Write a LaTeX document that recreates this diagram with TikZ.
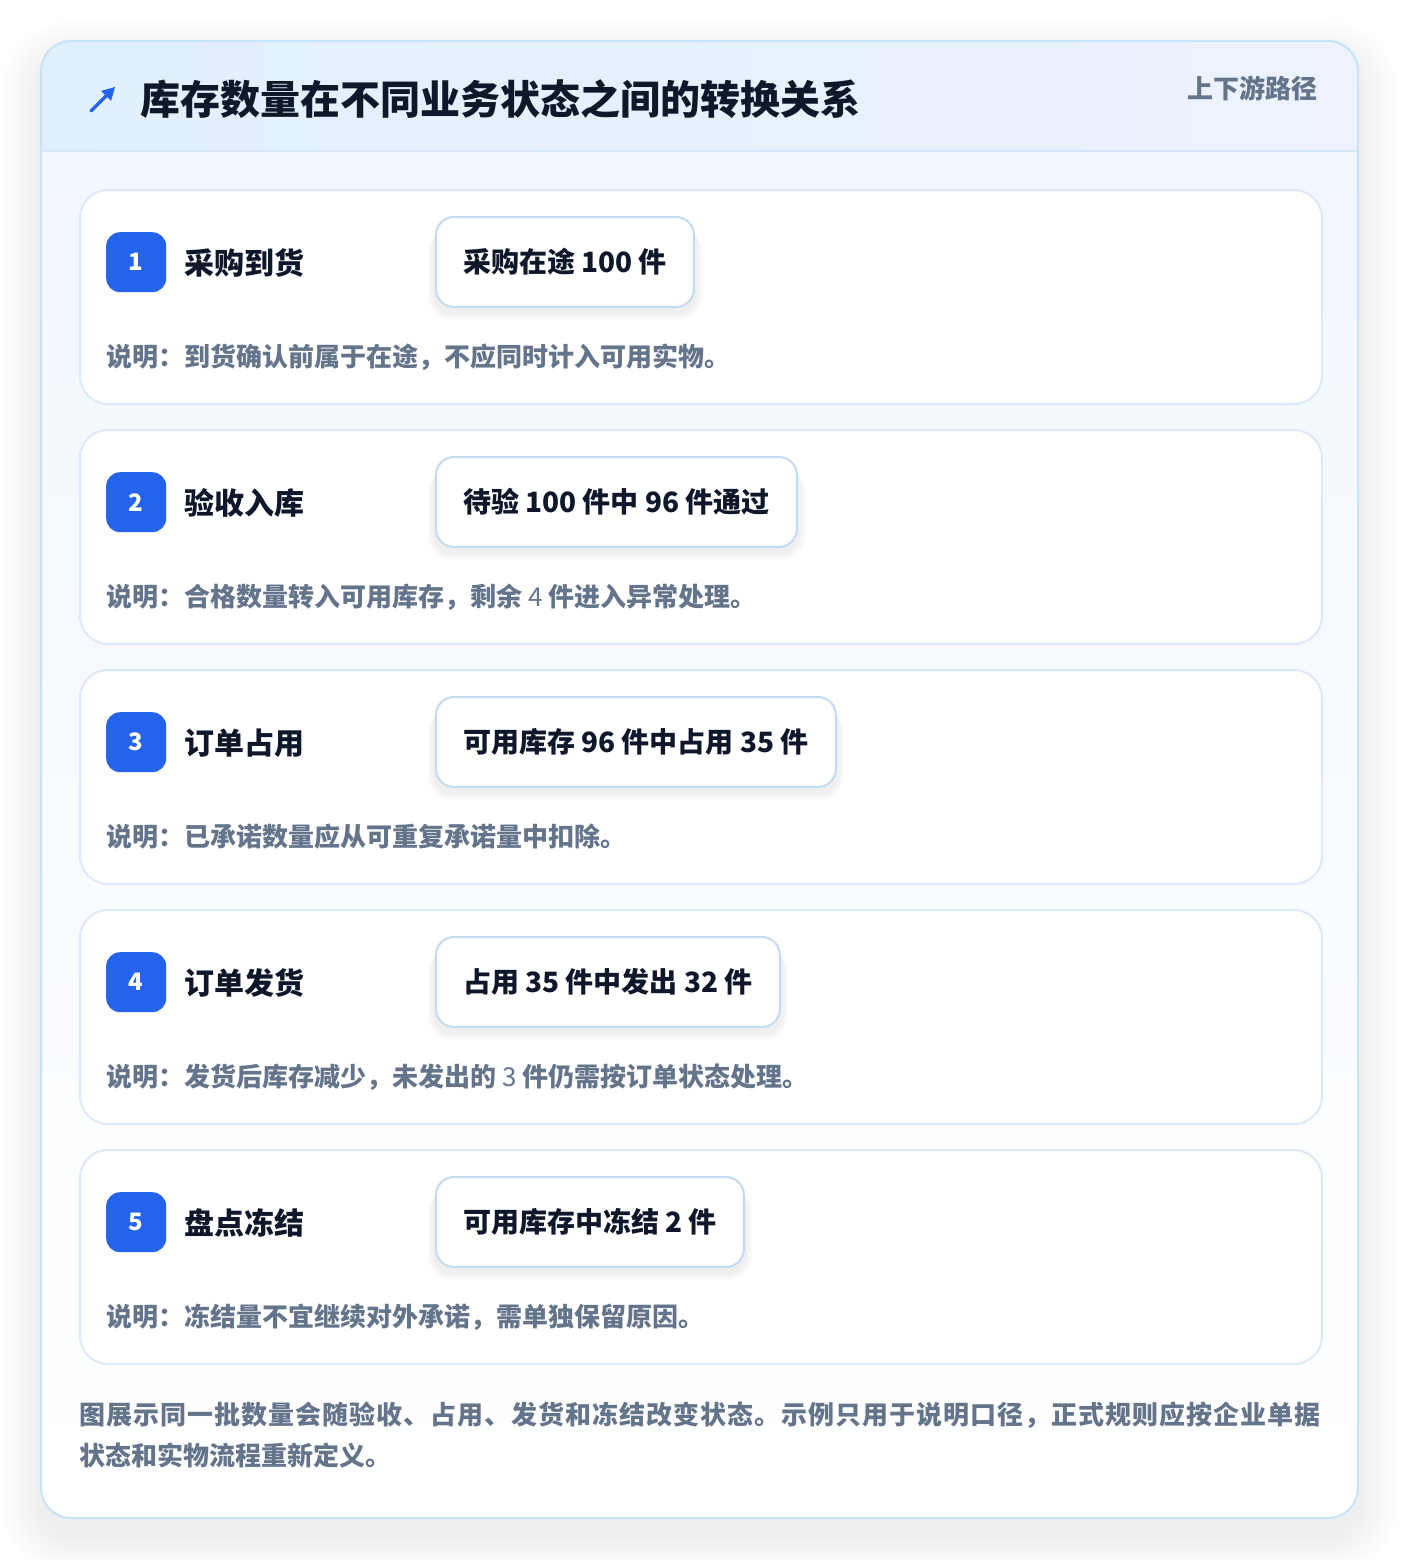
\documentclass[tikz,border=0pt]{standalone}
\usepackage{fontspec}
\setmainfont{Noto Sans CJK SC}
\definecolor{badgeblue}{HTML}{2563EB}
\definecolor{ink}{HTML}{0F172A}
\definecolor{muted}{HTML}{64748B}
\definecolor{outerborder}{HTML}{C5E4F8}
\definecolor{hdrL}{HTML}{E1EFFD}
\definecolor{hdrR}{HTML}{EDF2FE}
\definecolor{hdrline}{HTML}{D6E7F9}
\definecolor{cardborder}{HTML}{DCE9F8}
\definecolor{valborder}{HTML}{C3D9F4}
\definecolor{bodytop}{HTML}{F0F7FE}
\pgfdeclarelayer{back}
\pgfdeclarelayer{cards}
\pgfdeclarelayer{shadow}
\pgfsetlayers{back,cards,shadow,main}
\makeatletter
\newcommand\spreadline[2]{\hbox to #1{\@tfor\tmpc:=#2\do{\tmpc\hfil}\unskip}}
\makeatother
\tikzset{
  maintitle/.style={inner sep=0pt, text height=35.2pt, text depth=4.8pt,
    font=\fontsize{40}{48}\selectfont\bfseries, text=ink},
  sidetitle/.style={inner sep=0pt, text height=22.9pt, text depth=3.1pt,
    font=\fontsize{26}{32}\selectfont\bfseries, text=muted},
  stepcard/.style={draw=cardborder, line width=2pt, fill=white, rounded corners=28pt,
    minimum width=1242pt, minimum height=214pt, inner sep=0pt},
  badge/.style={fill=badgeblue, rounded corners=14pt, minimum width=60pt, minimum height=60pt,
    inner sep=0pt, text=white, font=\fontsize{24}{28}\selectfont\bfseries},
  steptitle/.style={inner sep=0pt, text height=26.4pt, text depth=3.6pt,
    font=\fontsize{30}{36}\selectfont\bfseries, text=ink},
  valbox/.style={draw=valborder, line width=2pt, fill=white, rounded corners=18pt,
    minimum height=90pt, inner xsep=27pt, inner ysep=0pt, text height=24.6pt, text depth=3.4pt,
    font=\fontsize{28}{34}\selectfont\bfseries, text=ink},
  note/.style={inner sep=0pt, text height=22.9pt, text depth=3.1pt,
    font=\fontsize{26}{32}\selectfont\bfseries, text=muted},
  foot/.style={inner sep=0pt, text height=22.9pt, text depth=3.1pt,
    font=\fontsize{26}{32}\selectfont\bfseries, text=muted},
}
\newcommand\mkstep[5]{% #1 index, #2 top y, #3 title, #4 value, #5 note
  \begin{pgfonlayer}{cards}
    \node[stepcard, anchor=north west] (card#1) at (79,#2) {};
  \end{pgfonlayer}
  \node[badge, anchor=north west] (badge#1) at (106,#2+43) {#1};
  \node[steptitle, anchor=west] (title#1) at (184,#2+74) {#3};
  \node[valbox, anchor=west] (val#1) at (435,#2+73) {#4};
  \begin{pgfonlayer}{shadow}
    \foreach \k in {1,...,8}{
      \pgfmathsetmacro\rr{18+\k}
      \fill[black, opacity=0.006, rounded corners=\rr pt]
        ([xshift=-\k pt, yshift=-\k pt-5pt]val#1.north west) rectangle ([xshift=\k pt, yshift=-\k pt-5pt]val#1.south east);
    }
  \end{pgfonlayer}
  \node[note, anchor=west] (note#1) at (106,#2+168) {#5};
}
\begin{document}
\begin{tikzpicture}[x=1pt,y=-1pt]
\useasboundingbox (0,0) rectangle (1400,1560);
\begin{pgfonlayer}{back}
  \fill[white] (0,0) rectangle (1400,1560);
  % soft outer shadow
  \foreach \k in {1,...,16}{
    \pgfmathsetmacro\rr{30+2.5*\k}
    \fill[black, opacity=0.0045, rounded corners=\rr pt]
      (41-2.5*\k, 41-2.5*\k+18) rectangle (1358+2.5*\k, 1518+2.5*\k+18);
  }
  % card body
  \shade[top color=bodytop, bottom color=white, rounded corners=30pt] (41,41) rectangle (1358,1518);
  \begin{scope}
    \clip[rounded corners=30pt] (41,41) rectangle (1358,1518);
    \shade[left color=hdrL, right color=hdrR] (41,41) rectangle (1358,151);
  \end{scope}
  \draw[hdrline, line width=1.5pt] (41,151) -- (1358,151);
  \draw[outerborder, line width=2pt, rounded corners=30pt] (41,41) rectangle (1358,1518);
\end{pgfonlayer}

% header
\coordinate (arrowtail) at (91,111);
\coordinate (arrowhead) at (115,87);
\draw[badgeblue, line width=3.2pt, line cap=round] (arrowtail) -- (111,91);
\fill[badgeblue] (arrowhead) -- (101,91) -- (111,101) -- cycle;
\node[maintitle, anchor=west] (title) at (140,99) {库存数量在不同业务状态之间的转换关系};
\node[sidetitle, anchor=east] (side) at (1318,89) {上下游路径};

% steps
\mkstep{1}{189}{采购到货}{采购在途 100 件}{说明：到货确认前属于在途，不应同时计入可用实物。}
\mkstep{2}{429}{验收入库}{待验 100 件中 96 件通过}{说明：合格数量转入可用库存，剩余 {\mdseries 4} 件进入异常处理。}
\mkstep{3}{669}{订单占用}{可用库存 96 件中占用 35 件}{说明：已承诺数量应从可重复承诺量中扣除。}
\mkstep{4}{909}{订单发货}{占用 35 件中发出 32 件}{说明：发货后库存减少，未发出的 {\mdseries 3} 件仍需按订单状态处理。}
\mkstep{5}{1149}{盘点冻结}{可用库存中冻结 2 件}{说明：冻结量不宜继续对外承诺，需单独保留原因。}

% footer
\node[foot, anchor=west] (foot1) at (79,1415) {\spreadline{1241pt}{图展示同一批数量会随验收、占用、发货和冻结改变状态。示例只用于说明口径，正式规则应按企业单据}};
\node[foot, anchor=west] (foot2) at (79,1456) {状态和实物流程重新定义。};
\end{tikzpicture}
\end{document}
